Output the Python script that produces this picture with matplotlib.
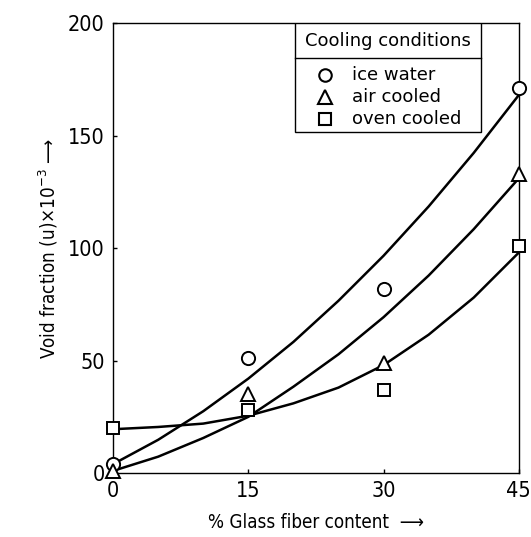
import matplotlib.pyplot as plt
from matplotlib.lines import Line2D

plt.rcParams['font.family'] = ['DejaVu Sans']
plt.rcParams['font.stretch'] = 'condensed'

# measured points (glass fiber %, void fraction x10^-3)
glass = [0, 15, 30, 45]
ice_water = [4, 51, 82, 171]
air_cooled = [1, 35, 49, 133]
oven_cooled = [20, 28, 37, 101]

# trend curves through the data
curve_x = [0, 5, 10, 15, 20, 25, 30, 35, 40, 45]
ice_curve = [4, 14.8, 27.5, 42, 58.3, 76.6, 96.6, 118.5, 142.3, 168]
air_curve = [1, 7.3, 15.6, 25, 38.4, 52.8, 69.3, 87.8, 108.4, 131]
oven_curve = [19.5, 20.5, 22, 25.5, 31, 38, 48, 61.5, 78, 98]

xticks = [0, 15, 30, 45]
yticks = [0, 50, 100, 150, 200]

fig = plt.figure(figsize=(5.31, 5.37), dpi=100)
ax = fig.add_axes([0.213, 0.119, 0.764, 0.838])

for cy in (ice_curve, air_curve, oven_curve):
    ax.plot(curve_x, cy, color='black', lw=1.8, solid_joinstyle='round')

mk = dict(color='black', ls='none', mfc='white', mew=1.4, clip_on=False, zorder=5)
ax.plot(glass, ice_water, marker='o', ms=9.5, **mk)
ax.plot(glass, air_cooled, marker='^', ms=10, **mk)
ax.plot(glass, oven_cooled, marker='s', ms=8.5, **mk)

ax.set_xlim(0, 45)
ax.set_ylim(0, 200)
ax.set_xticks(xticks)
ax.set_yticks(yticks)
ax.tick_params(direction='in', length=3, width=1, labelsize=15.5, pad=6)
for lab in ax.get_xticklabels() + ax.get_yticklabels():
    lab.set_fontweight('medium')
for s in ax.spines.values():
    s.set_linewidth(1.0)

ax.set_xlabel('% Glass fiber content  \u27f6', fontsize=13.5, labelpad=8)
ax.set_ylabel('Void fraction (u)$\\times$10$^{-3}$ \u27f6', fontsize=13.5,
              labelpad=6)

# legend box with title row
x0, x1, yb, ysep = 0.448, 0.906, 0.758, 0.922
ax.add_patch(plt.Rectangle((x0, yb), x1 - x0, 1.0 - yb, transform=ax.transAxes,
                           fill=True, fc='white', ec='black', lw=1.0, zorder=6))
ax.add_line(Line2D([x0, x1], [ysep, ysep], transform=ax.transAxes,
                   color='black', lw=1.0, zorder=7))
ax.text((x0 + x1) / 2, 0.961, 'Cooling conditions', transform=ax.transAxes,
        ha='center', va='center', fontsize=13, fontstretch='normal', zorder=7)
rows = [('o', 9, 'ice water', 0.884), ('^', 10, 'air cooled', 0.836),
        ('s', 8, 'oven cooled', 0.787)]
for m, size, name, yy in rows:
    ax.plot([0.522], [yy], marker=m, ms=size, mfc='white', mec='black', mew=1.5,
            transform=ax.transAxes, zorder=8, clip_on=False)
    ax.text(0.59, yy, name, transform=ax.transAxes, ha='left', va='center',
            fontsize=13, fontstretch='normal', zorder=8)

fig.savefig('out.png', dpi=100)
